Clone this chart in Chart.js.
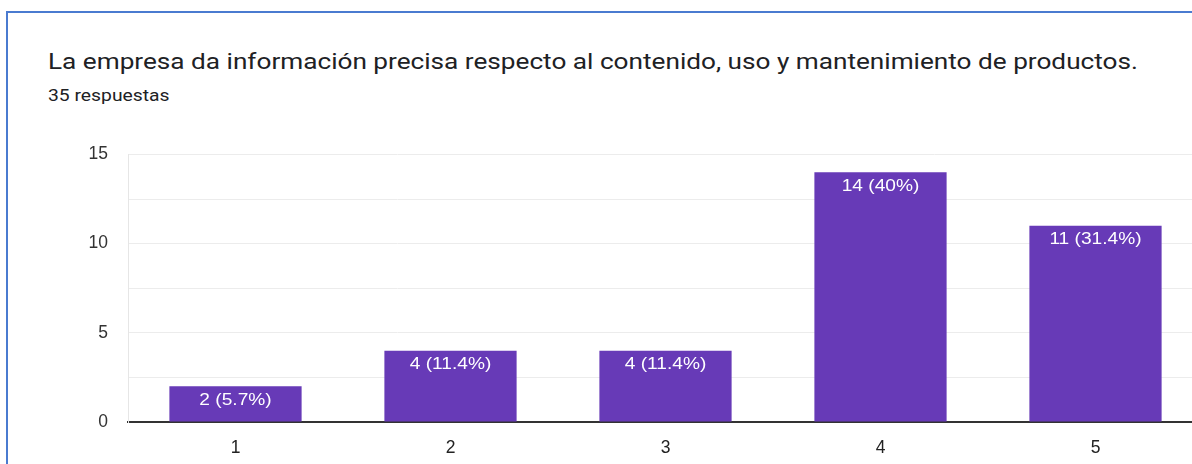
<!DOCTYPE html>
<html>
<head>
<meta charset="utf-8">
<script src="https://cdn.jsdelivr.net/npm/chart.js@4"></script>
<style>
  html, body { margin: 0; padding: 0; width: 1192px; height: 464px; overflow: hidden; background: #fff; }
  #frame { position: absolute; left: 6px; top: 11px; width: 1300px; height: 600px;
           border-left: 2px solid #4a7bd0; border-top: 2px solid #4a7bd0; }
  #title { position: absolute; left: 48px; top: 48px; font-family: Roboto, sans-serif;
           font-size: 22.5px; color: #202124; white-space: nowrap;
           transform: scaleX(1.163); transform-origin: 0 0; }
  #subtitle { position: absolute; left: 48px; top: 86px; font-family: Roboto, sans-serif;
              font-size: 16.5px; color: #202124; white-space: nowrap;
              transform: scaleX(1.17); transform-origin: 0 0; }
  #wrap { position: absolute; left: 0; top: 124px; width: 1203px; height: 340px; }
</style>
</head>
<body>
<div id="frame"></div>
<div id="title">La empresa da información precisa respecto al contenido, uso y mantenimiento de productos.</div>
<div id="subtitle">35 respuestas</div>
<div id="wrap"><canvas id="chart"></canvas></div>
<script>
const categories = ["1", "2", "3", "4", "5"];
const counts = [2, 4, 4, 14, 11];
const totalResponses = 35;
const yTicks = [0, 5, 10, 15];

const barLabels = counts.map(v => `${v} (${parseFloat((v / totalResponses * 100).toFixed(1))}%)`);
const tickFont = { family: "Arial, 'Liberation Sans', sans-serif", size: 17.5 };

// etiquetas blancas dentro de cada barra (texto un poco ensanchado como en la captura)
const barLabelPlugin = {
  id: "barLabels",
  afterDatasetsDraw(chart) {
    const ctx = chart.ctx;
    const meta = chart.getDatasetMeta(0);
    meta.data.forEach((bar, i) => {
      ctx.save();
      ctx.fillStyle = "#ffffff";
      ctx.font = `16.5px ${tickFont.family}`;
      ctx.textAlign = "center";
      ctx.textBaseline = "middle";
      ctx.translate(bar.x, bar.y + 14);
      ctx.scale(1.16, 1);
      ctx.fillText(barLabels[i], 0, 0);
      ctx.restore();
    });
  }
};

new Chart(document.getElementById("chart"), {
  type: "bar",
  data: {
    labels: categories,
    datasets: [{
      data: counts,
      backgroundColor: "#673ab7",
      borderWidth: 0,
      categoryPercentage: 1,
      barPercentage: 0.615
    }]
  },
  options: {
    responsive: true,
    maintainAspectRatio: false,
    animation: false,
    layout: { padding: { top: 18, right: 0, bottom: 0, left: 0 } },
    plugins: { legend: { display: false }, tooltip: { enabled: false } },
    scales: {
      x: {
        grid: { display: false },
        border: { color: "#333333", width: 2 },
        ticks: { color: "#222222", font: tickFont, padding: 8 },
        afterFit(scale) { scale.height = 42; }
      },
      y: {
        min: 0,
        max: 15,
        ticks: {
          stepSize: 2.5,
          color: "#333333",
          font: tickFont,
          padding: 20,
          callback: v => yTicks.includes(v) ? v : ""
        },
        grid: { color: "#ececec", drawTicks: false },
        border: { color: "#e6e6e6" },
        afterFit(scale) { scale.width = 128; }
      }
    }
  },
  plugins: [barLabelPlugin]
});
</script>
</body>
</html>
